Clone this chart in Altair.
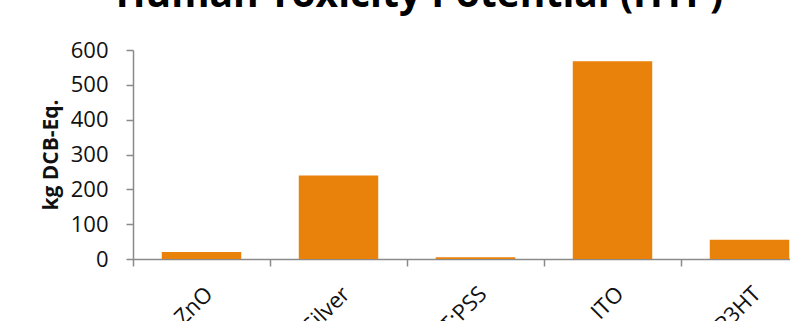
import altair as alt
import pandas as pd

materials = ["ZnO", "Silver", "PEDOT:PSS", "ITO", "P3HT"]
htp = [20, 240, 5, 568, 55]
y_ticks = [0, 100, 200, 300, 400, 500, 600]

df = pd.DataFrame({"material": materials, "htp": htp})

AXIS_GRAY = "#8A8A8A"
FONT = "Open Sans"

chart = (
    alt.Chart(df)
    .mark_bar(color="#E9820A", width=alt.RelativeBandSize(0.58))
    .encode(
        x=alt.X(
            "material:N",
            sort=materials,
            scale=alt.Scale(range=[0, 685], paddingInner=0, paddingOuter=0),
            axis=alt.Axis(
                title=None,
                labelAngle=-45,
                labelFont=FONT,
                labelFontSize=22,
                labelColor="#111111",
                labelPadding=17,
                tickBand="extent",
                tickSize=7,
                tickColor=AXIS_GRAY,
                tickWidth=1.5,
                domainColor=AXIS_GRAY,
                domainWidth=1.5,
                grid=False,
            ),
        ),
        y=alt.Y(
            "htp:Q",
            scale=alt.Scale(domain=[0, 600], nice=False),
            axis=alt.Axis(
                values=y_ticks,
                title="kg DCB-Eq.",
                titleFont=FONT,
                titleFontSize=21,
                titleFontWeight="bold",
                titleColor="#111111",
                titlePadding=9,
                labelFont=FONT,
                labelFontSize=22,
                labelColor="#111111",
                labelPadding=18,
                tickSize=7,
                tickColor=AXIS_GRAY,
                tickWidth=1.5,
                domainColor=AXIS_GRAY,
                domainWidth=1.5,
                grid=False,
            ),
        ),
    )
    .properties(
        width=657,
        height=209,
        padding={"left": 133, "top": 50, "right": 0, "bottom": 62},
        autosize=alt.AutoSizeParams(type="none"),
        title=alt.TitleParams(
            "Human Toxicity Potential (HTP)",
            font=FONT,
            fontSize=39,
            fontWeight="bold",
            color="#000000",
            anchor="middle",
            dx=-42,
            offset=24,
        ),
    )
    .configure_view(stroke=None)
)

chart.save("out.html", embed_options={"renderer": "svg", "actions": False})
